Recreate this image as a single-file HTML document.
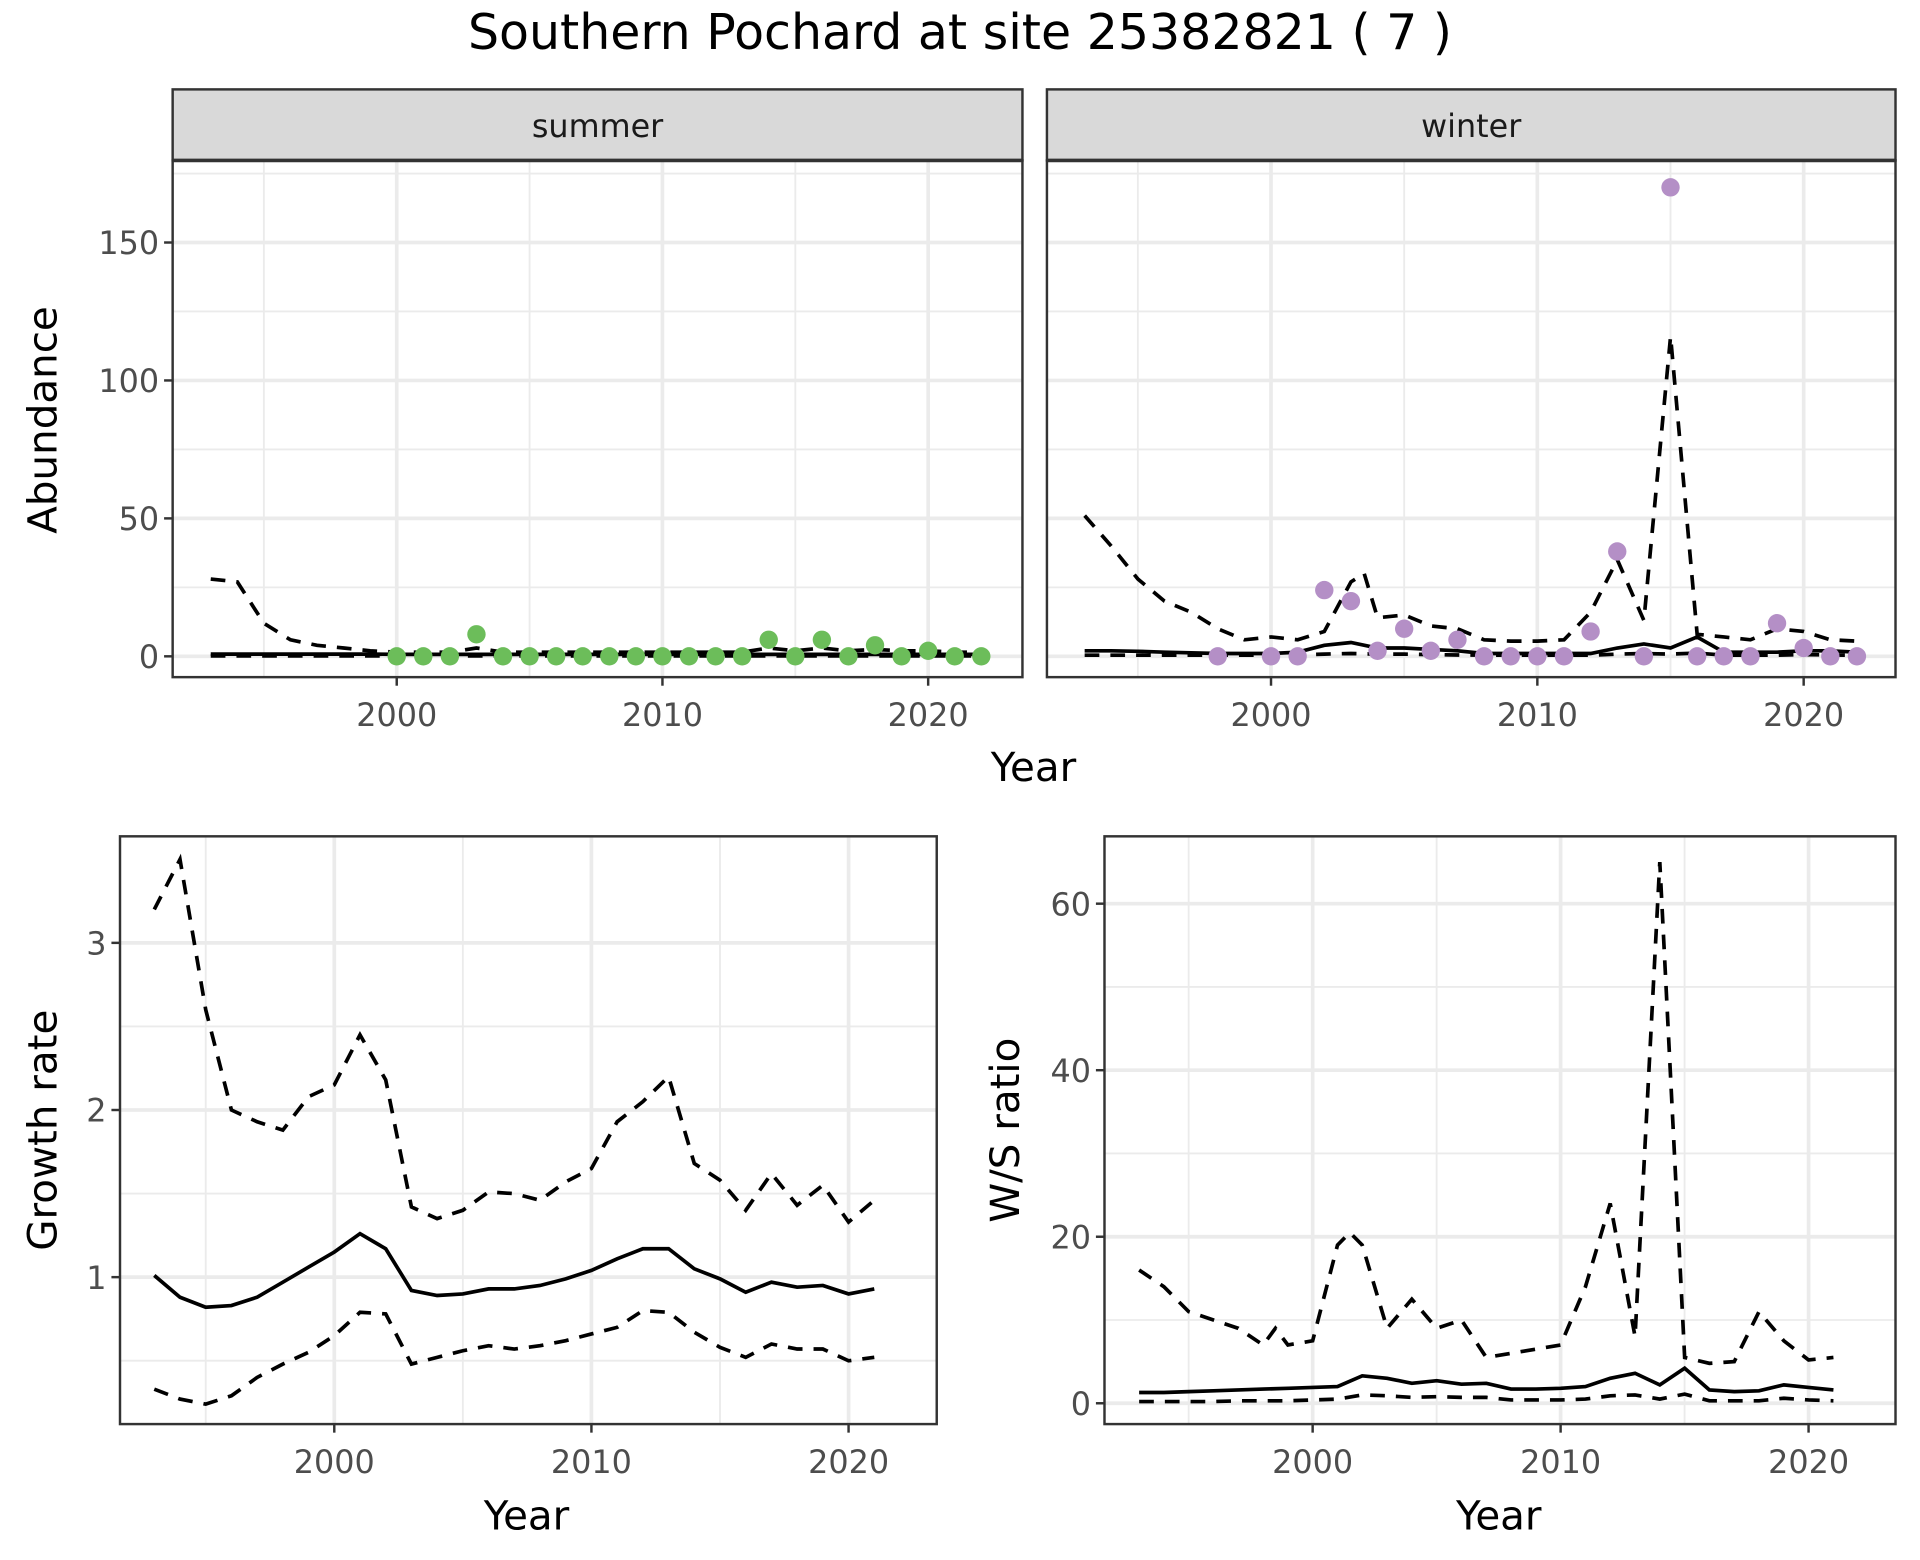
<!DOCTYPE html>
<html><head><meta charset="utf-8"><style>
html,body{margin:0;padding:0;background:#fff;}
svg{display:block;}
text{font-family:"DejaVu Sans","Liberation Sans",sans-serif;}
</style></head><body>
<svg id="s" width="1920" height="1560" viewBox="0 0 1568 1274" xmlns="http://www.w3.org/2000/svg">
<rect width="1568" height="1274" fill="#fff"/>
<text x="784" y="40" font-size="40" text-anchor="middle" fill="#000">Southern Pochard at site 25382821 ( 7 )</text>
<g id="g"></g>
<text x="844" y="638" font-size="33" text-anchor="middle">Year</text>
<text x="430" y="1249" font-size="33" text-anchor="middle">Year</text>
<text x="1224" y="1249" font-size="33" text-anchor="middle">Year</text>
<text transform="translate(46,343) rotate(-90)" font-size="33" text-anchor="middle">Abundance</text>
<text transform="translate(46,923) rotate(-90)" font-size="33" text-anchor="middle">Growth rate</text>
<text transform="translate(832,923) rotate(-90)" font-size="33" text-anchor="middle">W/S ratio</text>
</svg>
<script>
var G=document.getElementById('g'),h='';
function panel(o){
 h+='<rect x="'+o.x0+'" y="'+o.y0+'" width="'+(o.x1-o.x0)+'" height="'+(o.y1-o.y0)+'" fill="#fff"/>';
 o.xmin.forEach(function(v){var x=o.xf(v);h+='<line x1="'+x+'" x2="'+x+'" y1="'+o.y0+'" y2="'+o.y1+'" stroke="#ebebeb" stroke-width="1.5"/>';});
 o.ymin.forEach(function(v){var y=o.yf(v);if(y>o.y0&&y<o.y1)h+='<line y1="'+y+'" y2="'+y+'" x1="'+o.x0+'" x2="'+o.x1+'" stroke="#ebebeb" stroke-width="1.5"/>';});
 o.xmaj.forEach(function(v){var x=o.xf(v);h+='<line x1="'+x+'" x2="'+x+'" y1="'+o.y0+'" y2="'+o.y1+'" stroke="#ebebeb" stroke-width="3"/>';
  h+='<line x1="'+x+'" x2="'+x+'" y1="'+o.y1+'" y2="'+(o.y1+7)+'" stroke="#333" stroke-width="2"/>';
  h+='<text x="'+x+'" y="'+(o.y1+40)+'" font-size="26" fill="#4d4d4d" text-anchor="middle">'+v+'</text>';});
 o.ymaj.forEach(function(v){var y=o.yf(v);h+='<line y1="'+y+'" y2="'+y+'" x1="'+o.x0+'" x2="'+o.x1+'" stroke="#ebebeb" stroke-width="3"/>';
  if(o.ylab){h+='<line y1="'+y+'" y2="'+y+'" x1="'+(o.x0-7)+'" x2="'+o.x0+'" stroke="#333" stroke-width="2"/>';
  h+='<text x="'+(o.x0-11)+'" y="'+(y+9.5)+'" font-size="26" fill="#4d4d4d" text-anchor="end">'+v+'</text>';}});
 function line(d,dash){var p=d.map(function(q,i){return (i?'L':'M')+o.xf(q[0]).toFixed(1)+' '+o.yf(q[1]).toFixed(1);}).join('');
  h+='<path d="'+p+'" fill="none" stroke="#000" stroke-width="3" '+(dash?'stroke-dasharray="12,9"':'')+'/>';}
 line(o.up,1);line(o.lo,1);line(o.mid,0);
 if(o.pts)o.pts.forEach(function(q){h+='<circle cx="'+o.xf(q[0])+'" cy="'+o.yf(q[1])+'" r="7.5" fill="'+o.col+'"/>';});
 h+='<rect x="'+o.x0+'" y="'+o.y0+'" width="'+(o.x1-o.x0)+'" height="'+(o.y1-o.y0)+'" fill="none" stroke="#333" stroke-width="2"/>';
 if(o.strip){h+='<rect x="'+o.x0+'" y="73" width="'+(o.x1-o.x0)+'" height="58" fill="#d9d9d9" stroke="#333" stroke-width="2"/>';
  h+='<line x1="'+o.x0+'" x2="'+o.x1+'" y1="131" y2="131" stroke="#333" stroke-width="3"/>';
  h+='<text x="'+((o.x0+o.x1)/2)+'" y="112" font-size="26" fill="#1a1a1a" text-anchor="middle">'+o.strip+'</text>';}
}
function Y(a,b){var r=[];for(var i=a;i<=b;i++)r.push(i);return r;}
function Z(ys,vs){return ys.map(function(y,i){return [y,vs[i]];});}
var ay=function(v){return 536-v*2.253;};
var yrs=Y(1993,2022);
var sUp=Z(yrs,[28,27,12,6,4,3,2,1.5,1.5,1.5,3,1.5,1.5,1.5,1.5,1.5,1.5,1.5,1.5,1.5,1.5,3,2,3,2,2.5,2,2,1.5,1.5]);
var sMid=Z(yrs,yrs.map(function(y){return y<2000?0.8:0.7;}));
var sLo=Z(yrs,yrs.map(function(){return 0.15;}));
var sPts=Z(Y(2000,2022),[0,0,0,8,0,0,0,0,0,0,0,0,0,0,6,0,6,0,4,0,2,0,0]);
panel({x0:141,x1:835,y0:131,y1:553,xf:function(y){return 324+(y-2000)*21.7;},yf:ay,
 xmaj:[2000,2010,2020],xmin:[1995,2005,2015],ymaj:[0,50,100,150],ymin:[25,75,125,175],ylab:1,
 up:sUp,mid:sMid,lo:sLo,pts:sPts,col:'#6cbd5a',strip:'summer'});
var wUp=[[1993,51],[1994,40],[1995,28],[1996,20],[1997,16],[1998,10],[1999,6],[2000,7],[2001,6],[2002,9],[2003,27],[2003.5,30],[2004,14],[2005,15],[2006,11],[2007,10],[2008,6],[2009,5.5],[2010,5.5],[2011,6],[2012,16],[2013,35],[2014,13],[2015,116],[2016,8],[2017,7],[2018,6],[2019,10],[2020,9],[2021,6],[2022,5.5]];
var wMid=Z(yrs,[2,2,1.8,1.5,1.3,1,1,1,1.5,4,5,3,3,2.5,2,1,1,1,1,1,3,4.5,3,7,1.5,1.5,1.5,2,2,1.5]);
var wLo=Z(yrs,[0.4,0.4,0.4,0.4,0.4,0.4,0.4,0.4,0.5,0.8,1,0.8,0.8,0.6,0.5,0.4,0.4,0.4,0.4,0.4,0.8,1,0.8,1.2,0.4,0.4,0.4,0.6,0.5,0.4]);
var wPts=[[1998,0],[2000,0],[2001,0],[2002,24],[2003,20],[2004,2],[2005,10],[2006,2],[2007,6],[2008,0],[2009,0],[2010,0],[2011,0],[2012,9],[2013,38],[2014,0],[2015,170],[2016,0],[2017,0],[2018,0],[2019,12],[2020,3],[2021,0],[2022,0]];
panel({x0:855,x1:1548,y0:131,y1:553,xf:function(y){return 1038+(y-2000)*21.75;},yf:ay,
 xmaj:[2000,2010,2020],xmin:[1995,2005,2015],ymaj:[0,50,100,150],ymin:[25,75,125,175],ylab:0,
 up:wUp,mid:wMid,lo:wLo,pts:wPts,col:'#b48fc6',strip:'winter'});
var y21=Y(1993,2021);
panel({x0:98,x1:765,y0:683,y1:1163,xf:function(y){return 273+(y-2000)*21;},yf:function(v){return 1043-(v-1)*136.5;},
 xmaj:[2000,2010,2020],xmin:[1995,2005,2015],ymaj:[1,2,3],ymin:[1.5,2.5,0.5],ylab:1,
 up:Z(y21,[3.2,3.5,2.6,2.0,1.93,1.88,2.08,2.15,2.45,2.18,1.42,1.35,1.4,1.51,1.5,1.46,1.57,1.65,1.93,2.05,2.2,1.68,1.58,1.4,1.62,1.43,1.55,1.33,1.46]),
 mid:Z(y21,[1.01,0.88,0.82,0.83,0.88,0.97,1.06,1.15,1.26,1.17,0.92,0.89,0.9,0.93,0.93,0.95,0.99,1.04,1.11,1.17,1.17,1.05,0.99,0.91,0.97,0.94,0.95,0.9,0.93]),
 lo:Z(y21,[0.33,0.27,0.24,0.29,0.4,0.48,0.55,0.65,0.79,0.78,0.48,0.52,0.56,0.59,0.57,0.59,0.62,0.66,0.7,0.8,0.79,0.67,0.58,0.52,0.6,0.57,0.57,0.5,0.52])});
panel({x0:902,x1:1548,y0:683,y1:1163,xf:function(y){return 1072+(y-2000)*20.25;},yf:function(v){return 1146-v*6.8;},
 xmaj:[2000,2010,2020],xmin:[1995,2005,2015],ymaj:[0,20,40,60],ymin:[10,30,50],ylab:1,
 up:[[1993,16],[1994,14],[1995,11],[1996,10],[1997,9],[1998,7],[1998.5,9],[1999,7],[2000,7.5],[2001,19],[2001.5,20.5],[2002,19],[2003,9],[2004,12.5],[2005,9],[2006,10],[2007,5.5],[2008,6],[2009,6.5],[2010,7],[2011,14],[2012,24],[2013,8],[2014,65],[2015,5.5],[2016,4.8],[2017,5],[2018,11],[2019,7.5],[2020,5.2],[2021,5.5]],
 mid:Z(y21,[1.3,1.3,1.4,1.5,1.6,1.7,1.8,1.9,2,3.3,3,2.4,2.7,2.3,2.4,1.7,1.7,1.8,2,3,3.6,2.2,4.2,1.6,1.4,1.5,2.2,1.9,1.6]),
 lo:Z(y21,[0.2,0.2,0.2,0.2,0.3,0.3,0.3,0.4,0.5,1,0.9,0.7,0.8,0.7,0.7,0.4,0.4,0.4,0.5,0.9,1,0.5,1.1,0.3,0.3,0.3,0.6,0.4,0.3])});
G.innerHTML=h;
</script>
</body></html>
